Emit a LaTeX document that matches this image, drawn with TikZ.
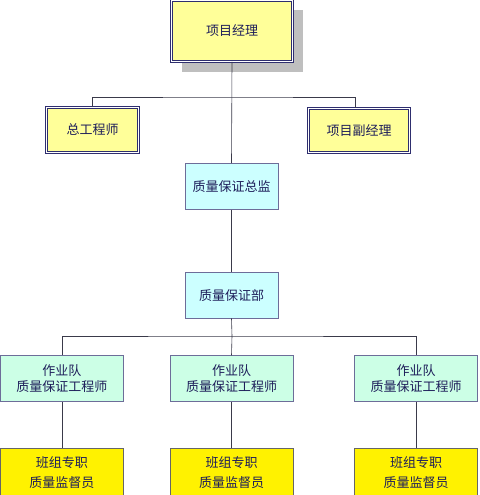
\documentclass[tikz,border=0pt]{standalone}
\usepackage{fontspec}
\newfontfamily\cjk{Noto Sans CJK SC}
\usepackage{tikz}
\usetikzlibrary{positioning, shadows}

\definecolor{navyline}{HTML}{2E2E6E}
\definecolor{paleyellow}{HTML}{FFFF99}
\definecolor{palecyan}{HTML}{CCFFFF}
\definecolor{palemint}{HTML}{CCFFE6}
\definecolor{linkgray}{HTML}{3A3A4A}
\definecolor{textnavy}{HTML}{1E1E5A}

\begin{document}
\begin{tikzpicture}[
            x=1pt, y=-1pt,
            every node/.style={font=\cjk\fontsize{13}{16}\selectfont, text=textnavy},
            leader/.style={
                rectangle,
                draw=navyline,
                line width=0.8pt,
                double=white,
                double distance=1.2pt,
                align=center,
                inner sep=0pt,
                fill=paleyellow
            },
            staff/.style={
                rectangle,
                draw=navyline!70,
                line width=0.6pt,
                align=center,
                inner sep=0pt,
                minimum width=93pt,
                minimum height=46pt
            },
            team/.style={
                staff,
                minimum width=123pt,
                fill=palemint
            },
            crew/.style={
                staff,
                draw=black!60,
                minimum width=123pt,
                minimum height=48pt,
                fill=yellow
            },
            link/.style={draw=linkgray, line width=0.6pt}
        ]
        \useasboundingbox (0,0) rectangle (479,495);

        % Nodes
        \node[leader, minimum width=121pt, minimum height=61pt,
              drop shadow={shadow xshift=10pt, shadow yshift=-10pt, fill=black!25, opacity=1}]
              (pm) at (232,31) {项目经理};

        \node[leader, minimum width=92pt, minimum height=45pt] (chief) at (92.5,130) {总工程师};
        \node[leader, minimum width=101pt, minimum height=44pt] (vice) at (359,130.5) {项目副经理};

        \node[staff, fill=palecyan] (qad) at (231.5,186.5) {质量保证总监};
        \node[staff, fill=palecyan, below=62pt of qad] (qadept) {质量保证部};

        \node[team, below=37pt of qadept] (team2) {作业队\\质量保证工程师};
        \node[team, left=46pt of team2] (team1) {作业队\\质量保证工程师};
        \node[team, right=61pt of team2] (team3) {作业队\\质量保证工程师};

        \node[crew, below=46pt of team1] (crew1) {班组专职\\[4pt]质量监督员};
        \node[crew, below=46pt of team2] (crew2) {班组专职\\[4pt]质量监督员};
        \node[crew, below=46pt of team3] (crew3) {班组专职\\[4pt]质量监督员};

        % Lines
        \coordinate (upbus) at (232,97);
        \coordinate (lowbus) at (232,336);

        \path[link] (pm.south) -- (qad.north);
        \path[link] (chief.north) |- (upbus) -| ([xshift=-4pt]vice.north);
        \path[link] (qad) -- (qadept);
        \path[link] (qadept.south) -- (lowbus);
        \path[link] (team1.north) |- (lowbus) -| (team3.north);
        \path[link] (lowbus) -- (team2.north);

        \foreach \i in {1,2,3}
            \path[link] (team\i) -- (crew\i);

        \end{tikzpicture}
\end{document}
